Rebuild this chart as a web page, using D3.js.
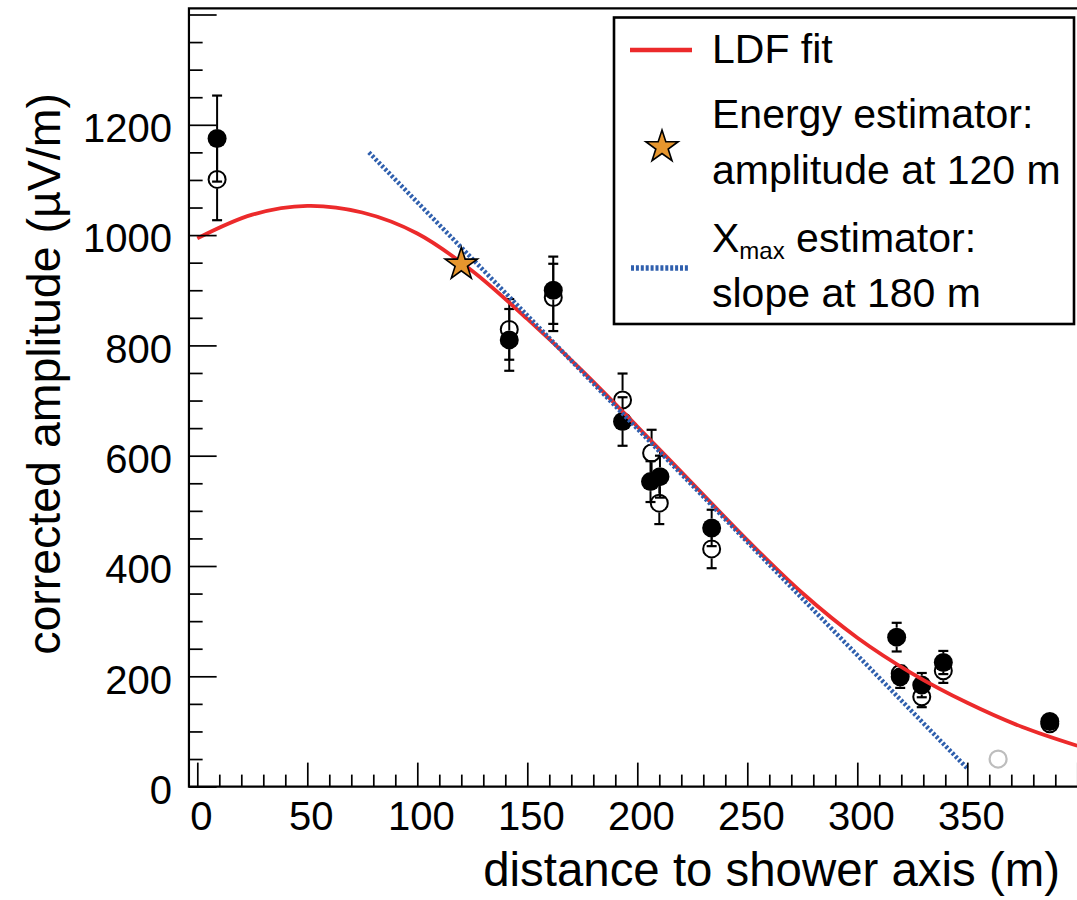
<!DOCTYPE html>
<html><head><meta charset="utf-8">
<script src="https://cdn.jsdelivr.net/npm/d3@7"></script>
<style>
html,body{margin:0;padding:0;background:#fff;}
svg{display:block;}
text{font-family:"Liberation Sans",Arial,Helvetica,sans-serif;fill:#000;}
</style></head><body>
<svg id="chart" width="1077" height="900"></svg>
<script>
// ---------- data ----------
const xMajorTicks = [0, 50, 100, 150, 200, 250, 300, 350, 400];
const xTickLabels = ["0", "50", "100", "150", "200", "250", "300", "350"];
const yMajorTicks = [0, 200, 400, 600, 800, 1000, 1200, 1400];
const yTickLabels = ["0", "200", "400", "600", "800", "1000", "1200"];

const filledDist = [9, 141.8, 161.8, 193.3, 206.0, 210.3, 233.8, 317.9, 319.5, 329.3, 339.1, 387.5];
const filledAmp  = [1175, 810, 900, 662, 553, 562, 469, 271, 199, 184, 225, 118];
const filledErr  = [78, 56, 61, 44, 37, 38, 33, 26, 20, 22, 21, 6];

const openDist = [9, 141.8, 161.8, 193.3, 206.5, 210.0, 233.8, 319.5, 329.3, 339.1, 387.5];
const openAmp  = [1101, 829, 887, 701, 605, 514, 431, 205, 163, 210, 114];
const openErr  = [74, 55, 61, 48, 42, 38, 35, 15, 19, 22, 5];

const grayDist = [364];
const grayAmp  = [50];

const ldfDist = [0, 25, 50, 75, 100, 125, 150, 175, 200, 225, 250, 275, 300, 325, 350, 375, 400];
const ldfAmp  = [994, 1037, 1053, 1041, 1003, 935, 848, 754, 653, 550, 447, 351, 270, 205, 152, 108, 74];

const energyDist = [120];
const energyAmp  = [947];

const xmaxDist = [78, 350];
const xmaxAmp  = [1150, 33];

const legendLabels = ["LDF fit", "Energy estimator:", "amplitude at 120 m", "X", "max", " estimator:", "slope at 180 m"];

// ---------- setup ----------
const svg = d3.select("#chart");
const x = d3.scaleLinear().domain([0, 350]).range([197.3, 967.3]);
const y = d3.scaleLinear().domain([0, 1200]).range([786.6, 124.8]);
const xMin = -3.8, xMax = 401, yMax = 1411;

const RED = "#ec2a2b", BLUE = "#2f5fad", STAR = "#e6962e";

// ---------- points (drawn under lines) ----------
const R = 9.5;
function drawErrors(g, dist, amp, err) {
  dist.forEach((d, i) => {
    const cx = x(d), cy = y(amp[i]);
    const top = y(amp[i] + err[i]), bot = y(amp[i] - err[i]);
    if (cy - top > R) {
      g.append("line").attr("x1", cx).attr("x2", cx).attr("y1", top).attr("y2", cy - R)
        .attr("stroke", "#000").attr("stroke-width", 2);
      g.append("line").attr("x1", cx - 5).attr("x2", cx + 5).attr("y1", top).attr("y2", top)
        .attr("stroke", "#000").attr("stroke-width", 2.2);
    }
    if (bot - cy > R) {
      g.append("line").attr("x1", cx).attr("x2", cx).attr("y1", cy + R).attr("y2", bot)
        .attr("stroke", "#000").attr("stroke-width", 2);
      g.append("line").attr("x1", cx - 5).attr("x2", cx + 5).attr("y1", bot).attr("y2", bot)
        .attr("stroke", "#000").attr("stroke-width", 2.2);
    }
  });
}
const gOpen = svg.append("g");
drawErrors(gOpen, openDist, openAmp, openErr);
gOpen.selectAll("circle").data(openDist).join("circle")
  .attr("cx", d => x(d)).attr("cy", (d, i) => y(openAmp[i])).attr("r", R - 1)
  .attr("fill", "none").attr("stroke", "#000").attr("stroke-width", 2);

const gGray = svg.append("g");
gGray.selectAll("circle").data(grayDist).join("circle")
  .attr("cx", d => x(d)).attr("cy", (d, i) => y(grayAmp[i])).attr("r", R - 1)
  .attr("fill", "none").attr("stroke", "#bdbdbd").attr("stroke-width", 2.2);

const gFilled = svg.append("g");
drawErrors(gFilled, filledDist, filledAmp, filledErr);
gFilled.selectAll("circle").data(filledDist).join("circle")
  .attr("cx", d => x(d)).attr("cy", (d, i) => y(filledAmp[i])).attr("r", R)
  .attr("fill", "#000");

// ---------- LDF curve ----------
const ldfLine = d3.line().x(d => x(d[0])).y(d => y(d[1])).curve(d3.curveCatmullRom.alpha(0.5));
svg.append("path").datum(ldfDist.map((d, i) => [d, ldfAmp[i]]))
  .attr("d", ldfLine).attr("fill", "none").attr("stroke", RED).attr("stroke-width", 3.8);

// ---------- Xmax tangent ----------
svg.append("path").datum(xmaxDist.map((d, i) => [d, xmaxAmp[i]]))
  .attr("d", d3.line().x(d => x(d[0])).y(d => y(d[1])))
  .attr("fill", "none").attr("stroke", BLUE).attr("stroke-width", 4.5).attr("stroke-dasharray", "2.6,2");

// ---------- star ----------
function starPts(cx, cy, Ro) {
  const ri = Ro * 0.382, pts = [];
  for (let k = 0; k < 10; k++) {
    const ang = -Math.PI / 2 + k * Math.PI / 5;
    const rr = k % 2 === 0 ? Ro : ri;
    pts.push([cx + rr * Math.cos(ang), cy + rr * Math.sin(ang)]);
  }
  return pts;
}
const starLine = d3.line().curve(d3.curveLinearClosed);
svg.selectAll("path.star").data(energyDist).join("path").attr("class", "star")
  .attr("d", (d, i) => starLine(starPts(x(d), y(energyAmp[i]), 17)))
  .attr("fill", STAR).attr("stroke", "#000").attr("stroke-width", 1.6).attr("stroke-linejoin", "miter");

// ---------- axes ----------
const yMinor = d3.range(0, 1401, 50).filter(v => v % 200 !== 0);
const xMinor = d3.range(0, 401, 10).filter(v => v % 50 !== 0);

const yAxisMajor = d3.axisLeft(y).tickValues(yMajorTicks).tickSize(-27.7).tickPadding(17)
  .tickFormat(v => { const i = yMajorTicks.indexOf(v); return i < yTickLabels.length ? yTickLabels[i] : ""; });
const gy = svg.append("g").attr("transform", `translate(${x(xMin)},0)`).call(yAxisMajor);
const yAxisMinor = d3.axisLeft(y).tickValues(yMinor).tickSize(-13.7).tickFormat("");
const gy2 = svg.append("g").attr("transform", `translate(${x(xMin)},0)`).call(yAxisMinor);

const xAxisMajor = d3.axisBottom(x).tickValues(xMajorTicks).tickSize(-24).tickPadding(14.6)
  .tickFormat(v => { const i = xMajorTicks.indexOf(v); return i < xTickLabels.length ? xTickLabels[i] : ""; });
const gx = svg.append("g").attr("transform", `translate(0,${y(0)})`).call(xAxisMajor);
const xAxisMinor = d3.axisBottom(x).tickValues(xMinor).tickSize(-12).tickFormat("");
const gx2 = svg.append("g").attr("transform", `translate(0,${y(0)})`).call(xAxisMinor);

[gy, gy2, gx, gx2].forEach(g => {
  g.select(".domain").remove();
  g.selectAll(".tick line").attr("stroke", "#000").attr("stroke-width", 1.7);
  g.selectAll("text").attr("font-size", 40).attr("font-family", '"Liberation Sans",Arial,sans-serif').attr("fill", "#000");
});
gy.selectAll("text").attr("dy", "0.42em");
gx.selectAll("text").attr("dx", 3.5);

// frame
svg.append("path")
  .attr("d", `M${x(xMax)},${y(yMax)} L${x(xMin)},${y(yMax)} L${x(xMin)},${y(0)} L${x(xMax)},${y(0)}`)
  .attr("fill", "none").attr("stroke", "#000").attr("stroke-width", 2.2);

// axis titles
svg.append("text").attr("x", 1060).attr("y", 886).attr("text-anchor", "end")
  .attr("font-size", 47.4).text("distance to shower axis (m)");
svg.append("text").attr("transform", "translate(60,374) rotate(-90)").attr("text-anchor", "middle")
  .attr("font-size", 46.5).text("corrected amplitude (µV/m)");

// ---------- legend ----------
const lg = svg.append("g");
lg.append("rect").attr("x", 614).attr("y", 17.5).attr("width", 460).attr("height", 306.5)
  .attr("fill", "#fff").attr("stroke", "#000").attr("stroke-width", 2.6);
lg.append("line").attr("x1", 630).attr("x2", 692).attr("y1", 50).attr("y2", 50)
  .attr("stroke", RED).attr("stroke-width", 4.5);
lg.append("path").attr("d", starLine(starPts(662, 147, 17)))
  .attr("fill", STAR).attr("stroke", "#000").attr("stroke-width", 1.6);
lg.append("line").attr("x1", 631).attr("x2", 689).attr("y1", 268).attr("y2", 268)
  .attr("stroke", BLUE).attr("stroke-width", 5.5).attr("stroke-dasharray", "3,1.9");
const fs = 41;
lg.append("text").attr("x", 712).attr("y", 63).attr("font-size", fs).text(legendLabels[0]);
lg.append("text").attr("x", 712).attr("y", 128).attr("font-size", fs).text(legendLabels[1]);
lg.append("text").attr("x", 712).attr("y", 184).attr("font-size", fs).text(legendLabels[2]);
const xt = lg.append("text").attr("x", 712).attr("y", 252).attr("font-size", fs);
xt.append("tspan").text(legendLabels[3]);
xt.append("tspan").attr("font-size", 24).attr("dy", 6.6).text(legendLabels[4]);
xt.append("tspan").attr("font-size", fs).attr("dy", -6.6).text(legendLabels[5]);
lg.append("text").attr("x", 712).attr("y", 307).attr("font-size", fs).text(legendLabels[6]);
</script>
</body></html>
